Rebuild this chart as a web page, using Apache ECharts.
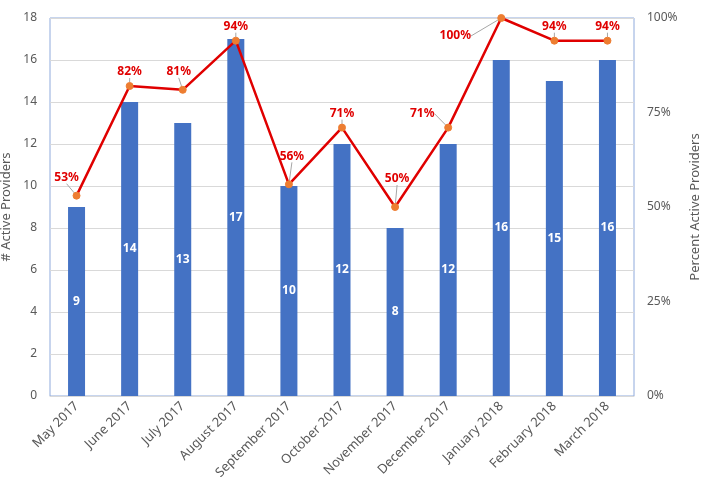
<!DOCTYPE html>
<html><head><meta charset="utf-8">
<script src="https://cdn.jsdelivr.net/npm/echarts@6/dist/echarts.min.js"></script>
<style>html,body{margin:0;padding:0;background:#fff}#c{width:704px;height:483px}</style>
</head><body><div id="c"></div>
<script>
const categories = ['May 2017','June 2017','July 2017','August 2017','September 2017','October 2017','November 2017','December 2017','January 2018','February 2018','March 2018'];
const activeProviders = [9,14,13,17,10,12,8,12,16,15,16];
const percentActive = [53,82,81,94,56,71,50,71,100,94,94];
const leftTicks = [0,2,4,6,8,10,12,14,16,18];
const rightTicks = [0,25,50,75,100];

// label shifts (styling only)
const labelShift = [[-10,-4],[0,0],[-4,-4],[0,0],[3,-14],[0,0],[2,-14],[-26,0],[-46,32],[0,0],[0,0]];

const font = 'Noto Sans';
const chart = echarts.init(document.getElementById('c'));
chart.setOption({
  animation:false,
  textStyle:{fontFamily:font},
  grid:{left:50,right:70,top:18,bottom:87,outerBoundsMode:'none',containLabel:false,show:true,borderColor:'#8faadc',borderWidth:1},
  xAxis:{type:'category',data:categories,
    axisLine:{lineStyle:{color:'#d9d9d9',width:1}},axisTick:{show:false},
    axisLabel:{rotate:45,color:'#595959',fontSize:13,fontFamily:font,margin:8}},
  yAxis:[
    {type:'value',min:leftTicks[0],max:leftTicks[leftTicks.length-1],interval:2,
     name:'# Active Providers',nameLocation:'middle',nameGap:29,nameRotate:90,
     nameTextStyle:{color:'#595959',fontSize:13,fontFamily:font},
     axisLabel:{color:'#595959',fontSize:12,margin:13},
     axisLine:{show:false},axisTick:{show:false},
     splitLine:{lineStyle:{color:'#d9d9d9'}}},
    {type:'value',min:rightTicks[0],max:rightTicks[rightTicks.length-1],interval:25,position:'right',
     name:'Percent Active Providers',nameLocation:'middle',nameGap:52,nameRotate:90,
     nameTextStyle:{color:'#595959',fontSize:13,fontFamily:font},
     axisLabel:{color:'#595959',fontSize:12,margin:13,formatter:'{value}%'},
     axisLine:{show:false},axisTick:{show:false},splitLine:{show:false}}
  ],
  series:[
    {type:'bar',data:activeProviders,barWidth:17,itemStyle:{color:'#4472c4'},
     label:{show:true,position:'inside',color:'#fff',fontWeight:'bold',fontSize:12,fontFamily:font}},
    {type:'line',yAxisIndex:1,data:percentActive,z:5,
     symbol:'circle',symbolSize:7,
     lineStyle:{color:'#e00000',width:2.5},
     itemStyle:{color:'#ed7d31',borderColor:'#ed7d31'},
     label:{show:true,position:'top',distance:4,color:'#e00000',fontWeight:'bold',fontSize:12,fontFamily:font,formatter:'{c}%'},
     labelLine:{show:true,lineStyle:{color:'#a6a6a6',width:1}},
     labelLayout:function(p){const s=labelShift[p.dataIndex];return {dx:s[0],dy:s[1]};}}
  ]
});
</script></body></html>
